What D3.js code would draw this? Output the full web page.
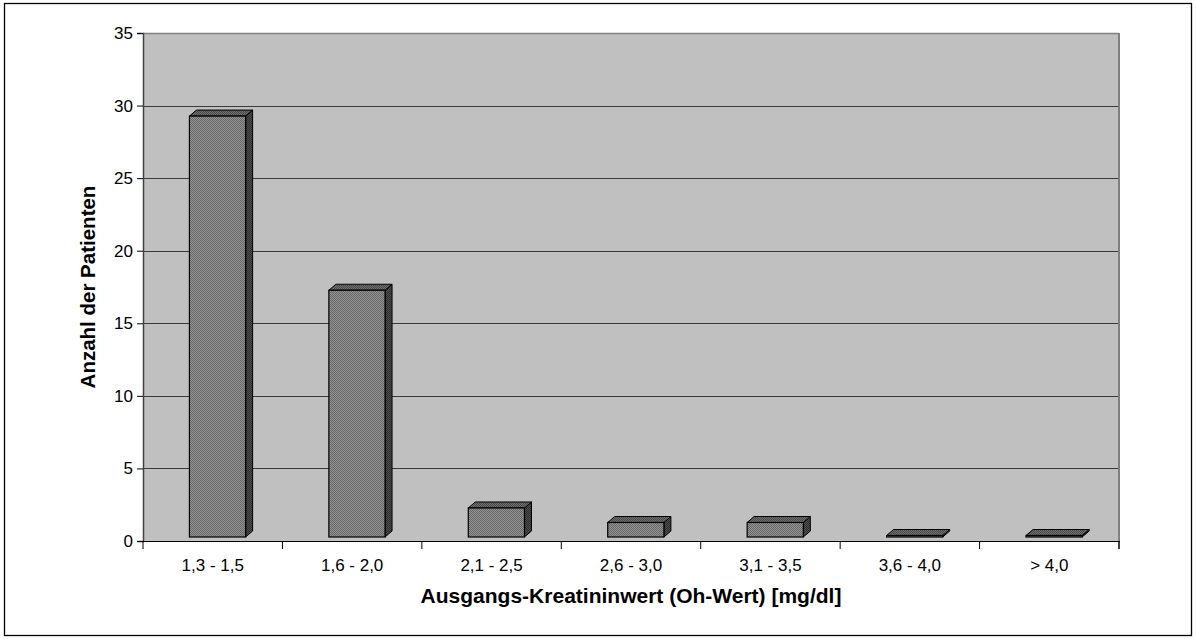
<!DOCTYPE html>
<html><head><meta charset="utf-8">
<script src="https://cdn.jsdelivr.net/npm/d3@7"></script>
<style>html,body{margin:0;padding:0;background:#fff;} svg{display:block;font-family:"Liberation Sans",Arial,sans-serif;}</style>
</head><body>
<svg id="c" width="1196" height="639"></svg>
<script>
const categories = ["1,3 - 1,5","1,6 - 2,0","2,1 - 2,5","2,6 - 3,0","3,1 - 3,5","3,6 - 4,0","> 4,0"];
const values = [29, 17, 2, 1, 1, 0, 0];
const yTicks = [0,5,10,15,20,25,30,35];
const xTitle = "Ausgangs-Kreatininwert (Oh-Wert) [mg/dl]";
const yTitle = "Anzahl der Patienten";

const svg = d3.select("#c");
const L=143, R=1119, T=33, B=541;
const x = d3.scaleBand().domain(categories).range([L,R]);
const y = d3.scaleLinear().domain([0,35]).range([B,T]);
const bw = x.bandwidth();
const DX=7, DY=6, SHIFT=4;

const defs = svg.append("defs");
function checker(id, a, b){
  const p = defs.append("pattern").attr("id",id).attr("width",2).attr("height",2).attr("patternUnits","userSpaceOnUse");
  p.append("rect").attr("width",2).attr("height",2).attr("fill",b);
  p.append("rect").attr("width",1).attr("height",1).attr("fill",a);
  p.append("rect").attr("x",1).attr("y",1).attr("width",1).attr("height",1).attr("fill",a);
}
checker("pf","#666666","#959595");
checker("pt","#4a4a4a","#6e6e6e");
checker("ps","#2e2e2e","#4e4e4e");

// outer border
svg.append("rect").attr("x",4.5).attr("y",3.5).attr("width",1187).attr("height",632)
  .attr("fill","#fff").attr("stroke","#000").attr("stroke-width",1.3);

// wall
svg.append("rect").attr("x",L).attr("y",T).attr("width",R-L).attr("height",B-T).attr("fill","#c0c0c0");
// gridlines
svg.append("g").selectAll("line").data(yTicks.filter(d=>d>0)).join("line")
  .attr("x1",L).attr("x2",R).attr("y1",d=>Math.round(y(d))+0.5).attr("y2",d=>Math.round(y(d))+0.5)
  .attr("stroke","#3a3a3a").attr("stroke-width",1.2);
// wall edges
svg.append("line").attr("x1",R).attr("x2",R).attr("y1",T).attr("y2",B+8).attr("stroke","#808080").attr("stroke-width",2);
svg.append("line").attr("x1",L).attr("x2",R).attr("y1",T+0.5).attr("y2",T+0.5).attr("stroke","#808080").attr("stroke-width",1.5);

// bars
const g = svg.append("g");
categories.forEach((c,i)=>{
  const v = values[i];
  const x0 = x(c) + bw*0.333, w = bw*0.403;
  const yb = y(0) - SHIFT;
  let yt = y(v) - SHIFT;
  if (yb - yt < 1.5) yt = yb - 1.5;
  // side
  g.append("path").attr("d",`M${x0+w},${yt}L${x0+w+DX},${yt-DY}L${x0+w+DX},${yb-DY}L${x0+w},${yb}Z`)
    .attr("fill","url(#ps)").attr("stroke","#000").attr("stroke-width",1).attr("stroke-linejoin","round");
  // top
  g.append("path").attr("d",`M${x0},${yt}L${x0+DX},${yt-DY}L${x0+w+DX},${yt-DY}L${x0+w},${yt}Z`)
    .attr("fill","url(#pt)").attr("stroke","#000").attr("stroke-width",1).attr("stroke-linejoin","round");
  // front
  g.append("rect").attr("x",x0).attr("y",yt).attr("width",w).attr("height",yb-yt)
    .attr("fill","url(#pf)").attr("stroke","#000").attr("stroke-width",1.2);
});

// y axis
const ya = svg.append("g").attr("transform",`translate(${L},0)`)
  .call(d3.axisLeft(y).tickValues(yTicks).tickSize(6).tickPadding(4));
ya.select(".domain").attr("stroke","#404040").attr("stroke-width",1.5);
ya.selectAll(".tick line").attr("stroke","#000");
ya.selectAll("text").attr("font-size",17).attr("fill","#000").attr("font-family","Liberation Sans, Arial, sans-serif");

// x axis
const xa = svg.append("g").attr("transform",`translate(0,${B})`)
  .call(d3.axisBottom(x).tickSize(0).tickPadding(18));
xa.select(".domain").remove();
xa.selectAll("text").attr("font-size",17).attr("fill","#000").attr("font-family","Liberation Sans, Arial, sans-serif");
svg.append("line").attr("x1",L).attr("x2",R+1).attr("y1",B+0.5).attr("y2",B+0.5).attr("stroke","#000").attr("stroke-width",1.2);
const bounds = categories.map(c=>x(c)).concat([R]);
svg.append("g").selectAll("line").data(bounds).join("line")
  .attr("x1",d=>d).attr("x2",d=>d).attr("y1",B).attr("y2",B+8).attr("stroke","#000");

// titles
svg.append("text").attr("x",(L+R)/2).attr("y",603).attr("text-anchor","middle")
  .attr("font-size",21).attr("font-weight","bold").text(xTitle);
svg.append("text").attr("transform",`translate(95,${(T+B)/2}) rotate(-90)`).attr("text-anchor","middle")
  .attr("font-size",20.5).attr("font-weight","bold").text(yTitle);
</script>
</body></html>
